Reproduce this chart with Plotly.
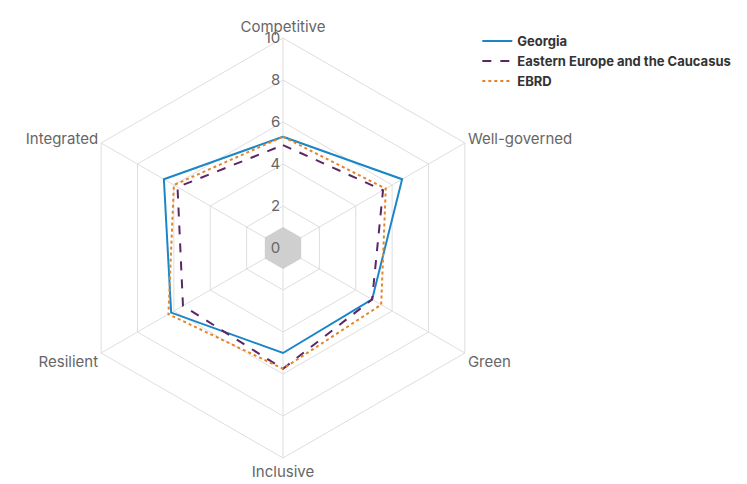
import plotly.graph_objects as go

categories = ["Competitive", "Well-governed", "Green", "Inclusive", "Resilient", "Integrated"]
georgia = [5.3, 6.55, 4.9, 5.0, 6.15, 6.55]
eec = [4.9, 5.5, 4.9, 5.75, 5.5, 5.8]
ebrd = [5.3, 5.65, 5.4, 5.75, 6.3, 6.0]
center_band = [1, 1, 1, 1, 1, 1]
radial_ticks = [0, 2, 4, 6, 8, 10]

def closed(v):
    return list(v) + [v[0]]

theta = closed(categories)

fig = go.Figure()
fig.add_trace(go.Scatterpolar(r=closed(center_band), theta=theta, mode="lines",
                              fill="toself", fillcolor="#cfcfcf", line=dict(color="#cfcfcf", width=0),
                              showlegend=False, hoverinfo="skip"))
fig.add_trace(go.Scatterpolar(r=closed(georgia), theta=theta, mode="lines", name="Georgia",
                              line=dict(color="#1a86c8", width=2)))
fig.add_trace(go.Scatterpolar(r=closed(eec), theta=theta, mode="lines", name="Eastern Europe and the Caucasus",
                              line=dict(color="#5b2566", width=2, dash="dash")))
fig.add_trace(go.Scatterpolar(r=closed(ebrd), theta=theta, mode="lines", name="EBRD",
                              line=dict(color="#e58427", width=2, dash="dot")))

fig.update_layout(
    width=747, height=484,
    margin=dict(l=0, r=0, t=0, b=0),
    paper_bgcolor="white",
    font=dict(family="Inter, Roboto, sans-serif", color="#666666", size=14),
    polar=dict(
        domain=dict(x=[(283 - 210) / 747, (283 + 210) / 747], y=[1 - 458 / 484, 1 - 38 / 484]),
        bgcolor="white",
        gridshape="linear",
        radialaxis=dict(range=[0, 10], tickvals=radial_ticks, ticktext=[str(t) for t in radial_ticks],
                        angle=90, tickangle=90, side="counterclockwise", showline=False,
                        gridcolor="#dedede", gridwidth=1,
                        ticks="", tickfont=dict(size=15, color="#666666")),
        angularaxis=dict(rotation=90, direction="clockwise", gridcolor="#dedede", linecolor="#dedede",
                         showline=True, ticks="", tickfont=dict(size=15, color="#666666")),
    ),
    legend=dict(x=0.639, y=0.946, xanchor="left", yanchor="top", bgcolor="rgba(0,0,0,0)",
                font=dict(size=13, color="#333333", family="Inter, Roboto, sans-serif", weight="bold"),
                tracegroupgap=0, itemwidth=30),
)

fig.write_html("out.html")
